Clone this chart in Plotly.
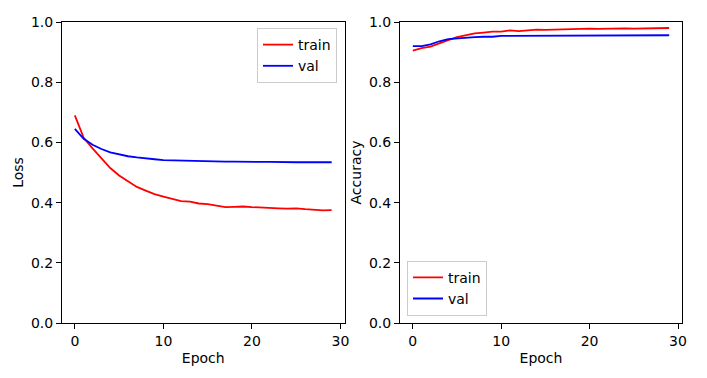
import plotly.graph_objects as go

epochs = list(range(30))
loss_train = [0.69, 0.615, 0.58, 0.548, 0.515, 0.49, 0.47, 0.452, 0.44, 0.428,
              0.42, 0.412, 0.405, 0.403, 0.397, 0.395, 0.39, 0.385, 0.386, 0.387,
              0.385, 0.383, 0.382, 0.381, 0.38, 0.381, 0.378, 0.376, 0.374, 0.375]
loss_val = [0.645, 0.612, 0.592, 0.578, 0.567, 0.56, 0.554, 0.55, 0.546, 0.544,
            0.541, 0.54, 0.539, 0.538, 0.537, 0.537, 0.536, 0.536, 0.536, 0.535,
            0.535, 0.535, 0.535, 0.534, 0.534, 0.534, 0.534, 0.534, 0.534, 0.534]
acc_train = [0.905, 0.913, 0.918, 0.93, 0.94, 0.95, 0.957, 0.962, 0.965, 0.968,
             0.968, 0.972, 0.97, 0.972, 0.975, 0.974, 0.975, 0.975, 0.977, 0.976,
             0.978, 0.977, 0.978, 0.977, 0.979, 0.978, 0.979, 0.979, 0.98, 0.98]
acc_val = [0.92, 0.92, 0.926, 0.936, 0.943, 0.946, 0.948, 0.95, 0.951, 0.951,
           0.954, 0.954, 0.954, 0.955, 0.955, 0.955, 0.955, 0.955, 0.955, 0.955,
           0.956, 0.956, 0.956, 0.956, 0.956, 0.956, 0.956, 0.956, 0.956, 0.956]
x_ticks = [0, 10, 20, 30]
y_ticks = [0.0, 0.2, 0.4, 0.6, 0.8, 1.0]

W, H = 707, 378
FONT = dict(family="DejaVu Sans", size=14, color="black")

fig = go.Figure()
fig.add_trace(go.Scatter(x=epochs, y=loss_train, mode="lines", name="train",
                         line=dict(color="red", width=1.8), xaxis="x", yaxis="y", legend="legend"))
fig.add_trace(go.Scatter(x=epochs, y=loss_val, mode="lines", name="val",
                         line=dict(color="blue", width=1.8), xaxis="x", yaxis="y", legend="legend"))
fig.add_trace(go.Scatter(x=epochs, y=acc_train, mode="lines", name="train",
                         line=dict(color="red", width=1.8), xaxis="x2", yaxis="y2", legend="legend2"))
fig.add_trace(go.Scatter(x=epochs, y=acc_val, mode="lines", name="val",
                         line=dict(color="blue", width=1.8), xaxis="x2", yaxis="y2", legend="legend2"))

xd1 = [62 / W, 344.5 / W]
xd2 = [400 / W, 682 / W]
yd = [1 - 323 / H, 1 - 22 / H]

axis_common = dict(showgrid=False, zeroline=False, showline=True, linecolor="black",
                   linewidth=1, mirror=True, ticks="outside", ticklen=5, tickwidth=1,
                   tickcolor="black", tickfont=FONT, automargin=False)

xr = [-1.45, 30.45]

fig.update_layout(
    width=W, height=H,
    margin=dict(l=0, r=0, t=0, b=0, autoexpand=False),
    plot_bgcolor="white", paper_bgcolor="white",
    font=FONT,
    xaxis=dict(domain=xd1, range=xr, tickvals=x_ticks, anchor="y",
               title=dict(text="Epoch", font=FONT, standoff=5), **axis_common),
    yaxis=dict(domain=yd, range=[0, 1], tickvals=y_ticks, tickformat=".1f", anchor="x",
               title=dict(text="Loss", font=FONT, standoff=4), **axis_common),
    xaxis2=dict(domain=xd2, range=xr, tickvals=x_ticks, anchor="y2",
                title=dict(text="Epoch", font=FONT, standoff=5), **axis_common),
    yaxis2=dict(domain=yd, range=[0, 1], tickvals=y_ticks, tickformat=".1f", anchor="x2",
                title=dict(text="Accuracy", font=FONT, standoff=4), **axis_common),
    legend=dict(x=337 / W, y=1 - 28 / H, xanchor="right", yanchor="top",
                bordercolor="#cccccc", borderwidth=1, bgcolor="rgba(255,255,255,0.8)",
                font=FONT, tracegroupgap=0, itemwidth=30),
    legend2=dict(x=407 / W, y=1 - 315.7 / H, xanchor="left", yanchor="bottom",
                 bordercolor="#cccccc", borderwidth=1, bgcolor="rgba(255,255,255,0.8)",
                 font=FONT, tracegroupgap=0, itemwidth=30),
)

fig.write_html("out.html", config={"displayModeBar": False},
               post_script="document.body.style.margin='0';")
